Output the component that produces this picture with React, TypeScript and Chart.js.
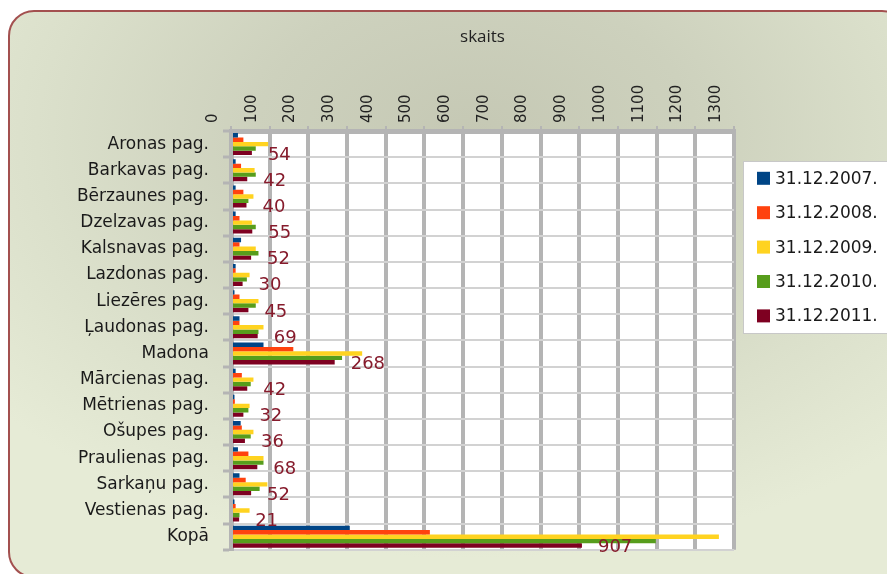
import React, { useEffect, useRef } from "react";
import { Chart, registerables } from "chart.js";

Chart.register(...registerables);

const categories = [
  "Aronas pag.",
  "Barkavas pag.",
  "Bērzaunes pag.",
  "Dzelzavas pag.",
  "Kalsnavas pag.",
  "Lazdonas pag.",
  "Liezēres pag.",
  "Ļaudonas pag.",
  "Madona",
  "Mārcienas pag.",
  "Mētrienas pag.",
  "Ošupes pag.",
  "Praulienas pag.",
  "Sarkaņu pag.",
  "Vestienas pag.",
  "Kopā",
];

const seriesLabels = ["31.12.2007.", "31.12.2008.", "31.12.2009.", "31.12.2010.", "31.12.2011."];

const v2007 = [18, 12, 12, 12, 26, 12, 9, 22, 84, 12, 9, 25, 18, 22, 9, 307];
const v2008 = [32, 26, 32, 22, 22, 12, 22, 22, 161, 28, 10, 28, 45, 38, 12, 514];
const v2009 = [96, 61, 58, 54, 64, 48, 71, 84, 339, 58, 48, 58, 84, 94, 48, 1261];
const v2010 = [64, 64, 45, 64, 71, 41, 64, 71, 287, 51, 45, 51, 84, 74, 22, 1098];
const v2011 = [54, 42, 40, 55, 52, 30, 45, 69, 268, 42, 32, 36, 68, 52, 21, 907];

const seriesColors = ["#004586", "#ff420e", "#ffd320", "#579d1c", "#7e0021"];

const axisMin = 0;
const axisMax = 1300;
const axisStep = 100;

const chartTitle = "skaits";

export default function App() {
  const canvasRef = useRef<HTMLCanvasElement | null>(null);

  useEffect(() => {
    if (!canvasRef.current) return;
    const values = [v2007, v2008, v2009, v2010, v2011];

    const plotBg = {
      id: "plotBg",
      beforeDraw(chart: any) {
        const { ctx, chartArea } = chart;
        ctx.save();
        ctx.fillStyle = "#ffffff";
        ctx.fillRect(chartArea.left, chartArea.top, chartArea.right - chartArea.left, chartArea.bottom - chartArea.top);
        ctx.restore();
      },
    };

    const valueLabels = {
      id: "valueLabels",
      afterDatasetsDraw(chart: any) {
        const { ctx } = chart;
        const dsIndex = chart.data.datasets.length - 1;
        const meta = chart.getDatasetMeta(dsIndex);
        const data = chart.data.datasets[dsIndex].data;
        ctx.save();
        ctx.font = "18px 'DejaVu Sans'";
        ctx.fillStyle = "#861b2c";
        ctx.textAlign = "left";
        ctx.textBaseline = "middle";
        meta.data.forEach((el: any, i: number) => {
          ctx.fillText(String(data[i]), el.x + 16, el.y + 2);
        });
        ctx.restore();
      },
    };

    const boxLegend = {
      id: "boxLegend",
      afterDraw(chart: any) {
        const { ctx } = chart;
        const x0 = 743;
        const y0 = 161;
        const w = 150;
        const h = 172;
        ctx.save();
        ctx.fillStyle = "#ffffff";
        ctx.fillRect(x0, y0, w, h);
        ctx.strokeStyle = "#c8c8c8";
        ctx.lineWidth = 1;
        ctx.strokeRect(x0 + 0.5, y0 + 0.5, w, h);
        ctx.font = "17px 'DejaVu Sans'";
        ctx.textBaseline = "middle";
        ctx.textAlign = "left";
        chart.data.datasets.forEach((ds: any, i: number) => {
          const cy = 178.3 + i * 34.4;
          ctx.fillStyle = ds.backgroundColor;
          ctx.fillRect(757, cy - 6.5, 13, 13);
          ctx.fillStyle = "#1a1a1a";
          ctx.fillText(ds.label, 775, cy + 1);
        });
        ctx.restore();
      },
    };

    const chart = new Chart(canvasRef.current, {
      type: "bar",
      data: {
        labels: categories,
        datasets: seriesLabels.map((label, i) => ({
          label,
          data: values[i],
          backgroundColor: seriesColors[i],
          borderWidth: 0,
          categoryPercentage: 0.84,
          barPercentage: 1.0,
        })),
      },
      options: {
        indexAxis: "y",
        animation: false,
        responsive: true,
        maintainAspectRatio: false,
        layout: { padding: { top: 0, left: 0, right: 153, bottom: 22 } },
        plugins: {
          legend: { display: false },
          tooltip: { enabled: false },
          title: {
            display: true,
            text: chartTitle,
            fullSize: false,
            color: "#222222",
            font: { family: "'Open Sans'", size: 17, weight: "normal" },
            padding: { top: 27, bottom: 0 },
          },
        },
        scales: {
          x: {
            type: "linear",
            position: "top",
            min: axisMin,
            max: axisMax,
            afterFit: (scale: any) => {
              scale.height = 83.6;
            },
            ticks: {
              stepSize: axisStep,
              autoSkip: false,
              minRotation: 90,
              maxRotation: 90,
              padding: 3,
              color: "#222222",
              font: { family: "'DejaVu Sans'", size: 15 },
              callback: (v: any) => String(v),
            },
            grid: {
              color: "#b4b4b4",
              lineWidth: 4,
              tickLength: 5,
              tickColor: "#b4b4b4",
              tickWidth: 2,
            },
            border: { display: true, color: "#b4b4b4", width: 5 },
          },
          y: {
            type: "category",
            position: "left",
            afterFit: (scale: any) => {
              scale.width = 231;
            },
            ticks: {
              autoSkip: false,
              padding: 14,
              color: "#1a1a1a",
              font: { family: "'DejaVu Sans'", size: 17 },
            },
            grid: {
              offset: true,
              color: (c: any) => (c.index === categories.length ? "#b4b4b4" : "#d2d2d2"),
              lineWidth: (c: any) => (c.index === categories.length ? 5 : 2),
              tickLength: 8,
              tickColor: "#b4b4b4",
              tickWidth: 3,
            },
            border: { display: true, color: "#b4b4b4", width: 5 },
          },
        },
      },
      plugins: [plotBg, valueLabels, boxLegend],
    });

    return () => chart.destroy();
  }, []);

  return (
    <div style={{ position: "fixed", left: 0, top: 0, width: 887, height: 574, overflow: "hidden", background: "#ffffff" }}>
      <div
        style={{
          position: "absolute",
          left: 8,
          top: 10,
          width: 900,
          height: 568,
          boxSizing: "border-box",
          border: "2px solid #a3504f",
          borderRadius: 26,
          background:
            "radial-gradient(ellipse 70% 75% at 52% 22%, #c5c8b4 0%, #cdd1bd 35%, #dbe0cb 70%, #e6ebd6 100%)",
        }}
      />
      <div style={{ position: "absolute", left: 0, top: 0, width: 887, height: 574 }}>
        <canvas ref={canvasRef} />
      </div>
    </div>
  );
}
